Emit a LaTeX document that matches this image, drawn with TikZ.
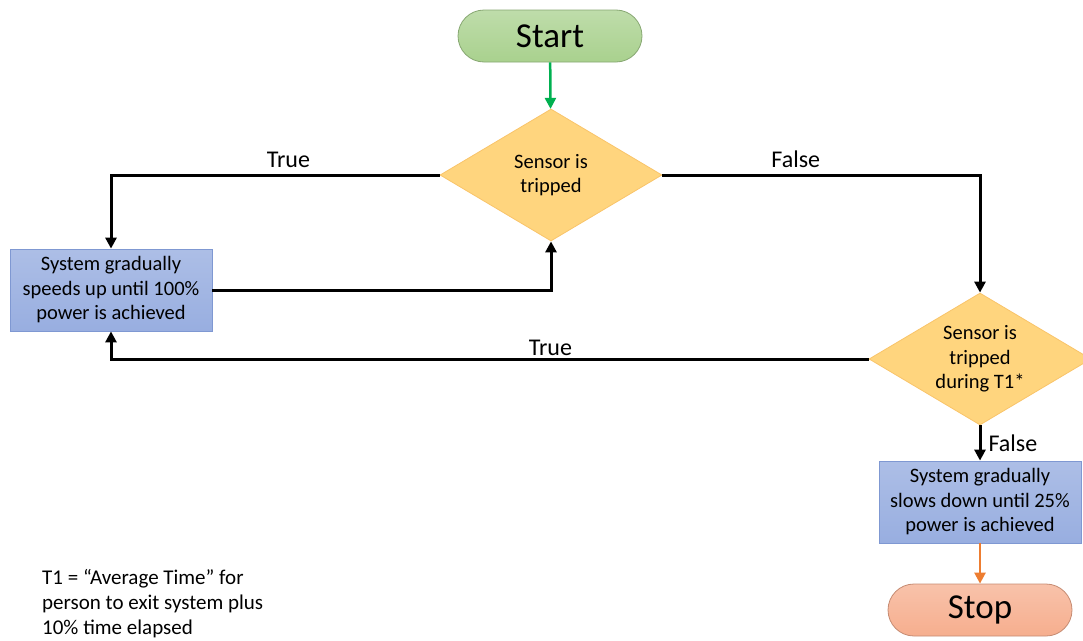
\documentclass[tikz,border=0pt]{standalone}
\usepackage{fontspec}
\setmainfont{Carlito}
\usepackage{xcolor}
\usepackage{tikz}
\usetikzlibrary{positioning,shapes.geometric,arrows.meta}

\definecolor{startgreen}{HTML}{A9D18E}
\definecolor{startedge}{HTML}{8CBF6C}
\definecolor{decyellow}{HTML}{FFD57E}
\definecolor{decedge}{HTML}{F9C46A}
\definecolor{procblue}{HTML}{98AEE0}
\definecolor{procedge}{HTML}{7F98D2}
\definecolor{stopred}{HTML}{F6AE8E}
\definecolor{stopedge}{HTML}{F4A47F}
\definecolor{arrgreen}{HTML}{00B050}
\definecolor{arrorange}{HTML}{ED7D31}

\begin{document}
\begin{tikzpicture}[
    x=1pt, y=-1pt,
    node distance=1cm,
    every node/.style={font=\fontsize{20.5}{24.5}\selectfont},
    terminal/.style={draw=#1!80!black, line width=0.8pt, rectangle, rounded corners=26pt,
        minimum width=184pt, minimum height=52pt, top color=#1!75!white, bottom color=#1,
        font=\fontsize{35}{38}\selectfont},
    decision/.style={draw=decedge, line width=0.8pt, diamond, aspect=1.68, inner sep=0pt,
        minimum width=222pt, minimum height=132pt, fill=decyellow, align=center},
    process/.style={draw=procedge, line width=0.8pt, rectangle, minimum width=202pt,
        minimum height=82pt, top color=procblue!80!white, bottom color=procblue, align=center},
    flow/.style={-{Triangle[length=11pt, width=11pt]}, line width=3pt},
    lbl/.style={font=\fontsize{24}{28}\selectfont, inner sep=2pt}
]
    \useasboundingbox (0,0) rectangle (1083,640);

    % Nodes
    \node[terminal=startgreen] (start) at (550,36) {Start};
    \node[decision] (sensor) at (551,175) {Sensor is\\tripped};
    \node[process] (speedup) at (111,290) {System gradually\\speeds up until 100\%\\power is achieved};
    \node[decision] (sensort) at (980,359) {Sensor is\\tripped\\during T1*};
    \node[process] (slowdown) at (980,502) {System gradually\\slows down until 25\%\\power is achieved};
    \node[terminal=stopred] (stop) at (980,610) {Stop};
    \node[anchor=north west, align=left, inner sep=0pt,
          font=\fontsize{21}{25}\selectfont] (note) at (42,569)
        {T1 = “Average Time” for\\person to exit system plus\\10\% time elapsed};

    % Arrows
    \draw[flow, arrgreen, line width=2.5pt] (start) -- (sensor);
    \draw[flow] (sensor.west) -| node[lbl, pos=0.23, above, yshift=4pt] {True} (speedup.north);
    \draw[flow] (speedup.east) -| (sensor.south);
    \draw[flow] (sensor.east) -| node[lbl, pos=0.21, above, yshift=4pt] {False} (sensort.north);
    \draw[flow] (sensort.west) -| node[lbl, pos=0.21, above] {True} (speedup.south);
    \draw[flow] (sensort.south) -- node[lbl, right, xshift=5pt] {False} (slowdown);
    \draw[flow, arrorange, line width=2.5pt] (slowdown) -- (stop);
\end{tikzpicture}
\end{document}
